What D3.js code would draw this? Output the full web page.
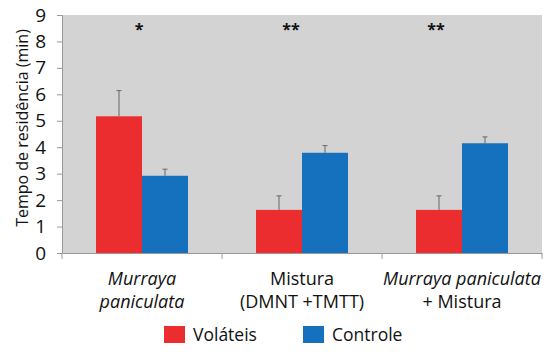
<!DOCTYPE html>
<html><head><meta charset="utf-8">
<script src="https://cdn.jsdelivr.net/npm/d3@7"></script>
<style>body{margin:0;background:#fff;} svg{display:block;font-family:"Open Sans",sans-serif;}</style>
</head><body><svg id="c" width="550" height="358"></svg>
<script>
const categories = ["Murraya paniculata", "Mistura (DMNT +TMTT)", "Murraya paniculata + Mistura"];
const seriesNames = ["Voláteis", "Controle"];
const volateis = [5.17, 1.63, 1.63];
const volateisErr = [0.97, 0.53, 0.53];
const controle = [2.92, 3.79, 4.15];
const controleErr = [0.25, 0.27, 0.24];
const significance = ["*", "**", "**"];
const yTicks = [0,1,2,3,4,5,6,7,8,9];
const colors = ["#ec2d2f", "#1570bd"];
// label lines per category: [text, italic]
const labelLines = [
  [["Murraya", true], ["paniculata", true]],
  [["Mistura", false], ["(DMNT +TMTT)", false]],
  [["Murraya paniculata", true], ["+ Mistura", false]]
];

const svg = d3.select("#c");
const m = {l:62, r:8, t:15, b:105};
const W = 550, H = 358;
const x = d3.scaleBand().domain(categories).range([m.l, W - m.r]).paddingInner(0).paddingOuter(0);
const x1 = d3.scaleBand().domain(seriesNames).range([0, 92]);
const y = d3.scaleLinear().domain([0, 9]).range([H - m.b, m.t]);

svg.append("rect").attr("x", m.l).attr("y", m.t).attr("width", W - m.r - m.l).attr("height", y(0) - m.t).attr("fill", "#d3d3d3");

const data = categories.map((c, i) => ({c, vals: [
  {s: seriesNames[0], v: volateis[i], e: volateisErr[i]},
  {s: seriesNames[1], v: controle[i], e: controleErr[i]}]}));

const g = svg.append("g").selectAll("g").data(data).join("g")
  .attr("transform", d => `translate(${x(d.c) + x.bandwidth()/2 - 46},0)`);
g.selectAll("rect").data(d => d.vals).join("rect")
  .attr("x", d => x1(d.s)).attr("width", x1.bandwidth())
  .attr("y", d => y(d.v)).attr("height", d => y(0) - y(d.v))
  .attr("fill", (d, i) => colors[i]);
g.selectAll("line.err").data(d => d.vals).join("line").attr("class", "err")
  .attr("x1", d => x1(d.s) + x1.bandwidth()/2).attr("x2", d => x1(d.s) + x1.bandwidth()/2)
  .attr("y1", d => y(d.v)).attr("y2", d => y(d.v + d.e))
  .attr("stroke", "#666").attr("stroke-width", 1);
g.selectAll("line.cap").data(d => d.vals).join("line").attr("class", "cap")
  .attr("x1", d => x1(d.s) + x1.bandwidth()/2 - 2.5).attr("x2", d => x1(d.s) + x1.bandwidth()/2 + 2.5)
  .attr("y1", d => y(d.v + d.e)).attr("y2", d => y(d.v + d.e))
  .attr("stroke", "#666").attr("stroke-width", 1);

// significance
const sigShift = [-3, -11, -26];
svg.append("g").selectAll("text").data(categories).join("text")
  .attr("x", (d, i) => x(d) + x.bandwidth()/2 + sigShift[i]).attr("y", 35)
  .attr("text-anchor", "middle").attr("font-size", 16).attr("font-weight", "bold").attr("fill", "#111")
  .text((d, i) => significance[i]);

// y axis
const ya = svg.append("g").attr("transform", `translate(${m.l},0)`)
  .call(d3.axisLeft(y).tickValues(yTicks).tickSize(5).tickPadding(11));
ya.select(".domain").attr("stroke", "#999");
ya.selectAll(".tick line").attr("stroke", "#999");
ya.selectAll("text").attr("font-size", 19).attr("fill", "#111").attr("font-family", "Open Sans");

// x axis
const xa = svg.append("g").attr("transform", `translate(0,${y(0)})`)
  .call(d3.axisBottom(x).tickValues([]).tickSize(0));
xa.select(".domain").attr("stroke", "#999");
const bounds = [m.l, ...categories.map(c => x(c) + x.bandwidth())];
xa.selectAll("line.b").data(bounds).join("line").attr("class", "b")
  .attr("x1", d => d).attr("x2", d => d).attr("y1", 0).attr("y2", 6).attr("stroke", "#999");

// category labels (one text each, two tspans)
const lab = svg.append("g").selectAll("text").data(categories).join("text")
  .attr("x", d => x(d) + x.bandwidth()/2).attr("y", 285)
  .attr("text-anchor", "middle").attr("fill", "#111");
lab.each(function(d, i) {
  const t = d3.select(this);
  labelLines[i].forEach(([s, ital], j) => {
    t.append("tspan").attr("x", x(d) + x.bandwidth()/2).attr("dy", j === 0 ? 0 : 22.5)
      .attr("font-style", ital ? "italic" : "normal").attr("font-size", 18).text(s);
  });
});

// y label
svg.append("text").attr("transform", `translate(28,128) rotate(-90)`)
  .attr("text-anchor", "middle").attr("font-size", 16).attr("fill", "#111").text("Tempo de residência (min)");

// legend
const leg = svg.append("g").selectAll("g").data(seriesNames).join("g")
  .attr("transform", (d, i) => `translate(${164 + i * 139},326)`);
leg.append("rect").attr("width", 21).attr("height", 17).attr("fill", (d, i) => colors[i]);
leg.append("text").attr("x", 29).attr("y", 15).attr("font-size", 17.5).attr("fill", "#111").text(d => d);
</script></body></html>
